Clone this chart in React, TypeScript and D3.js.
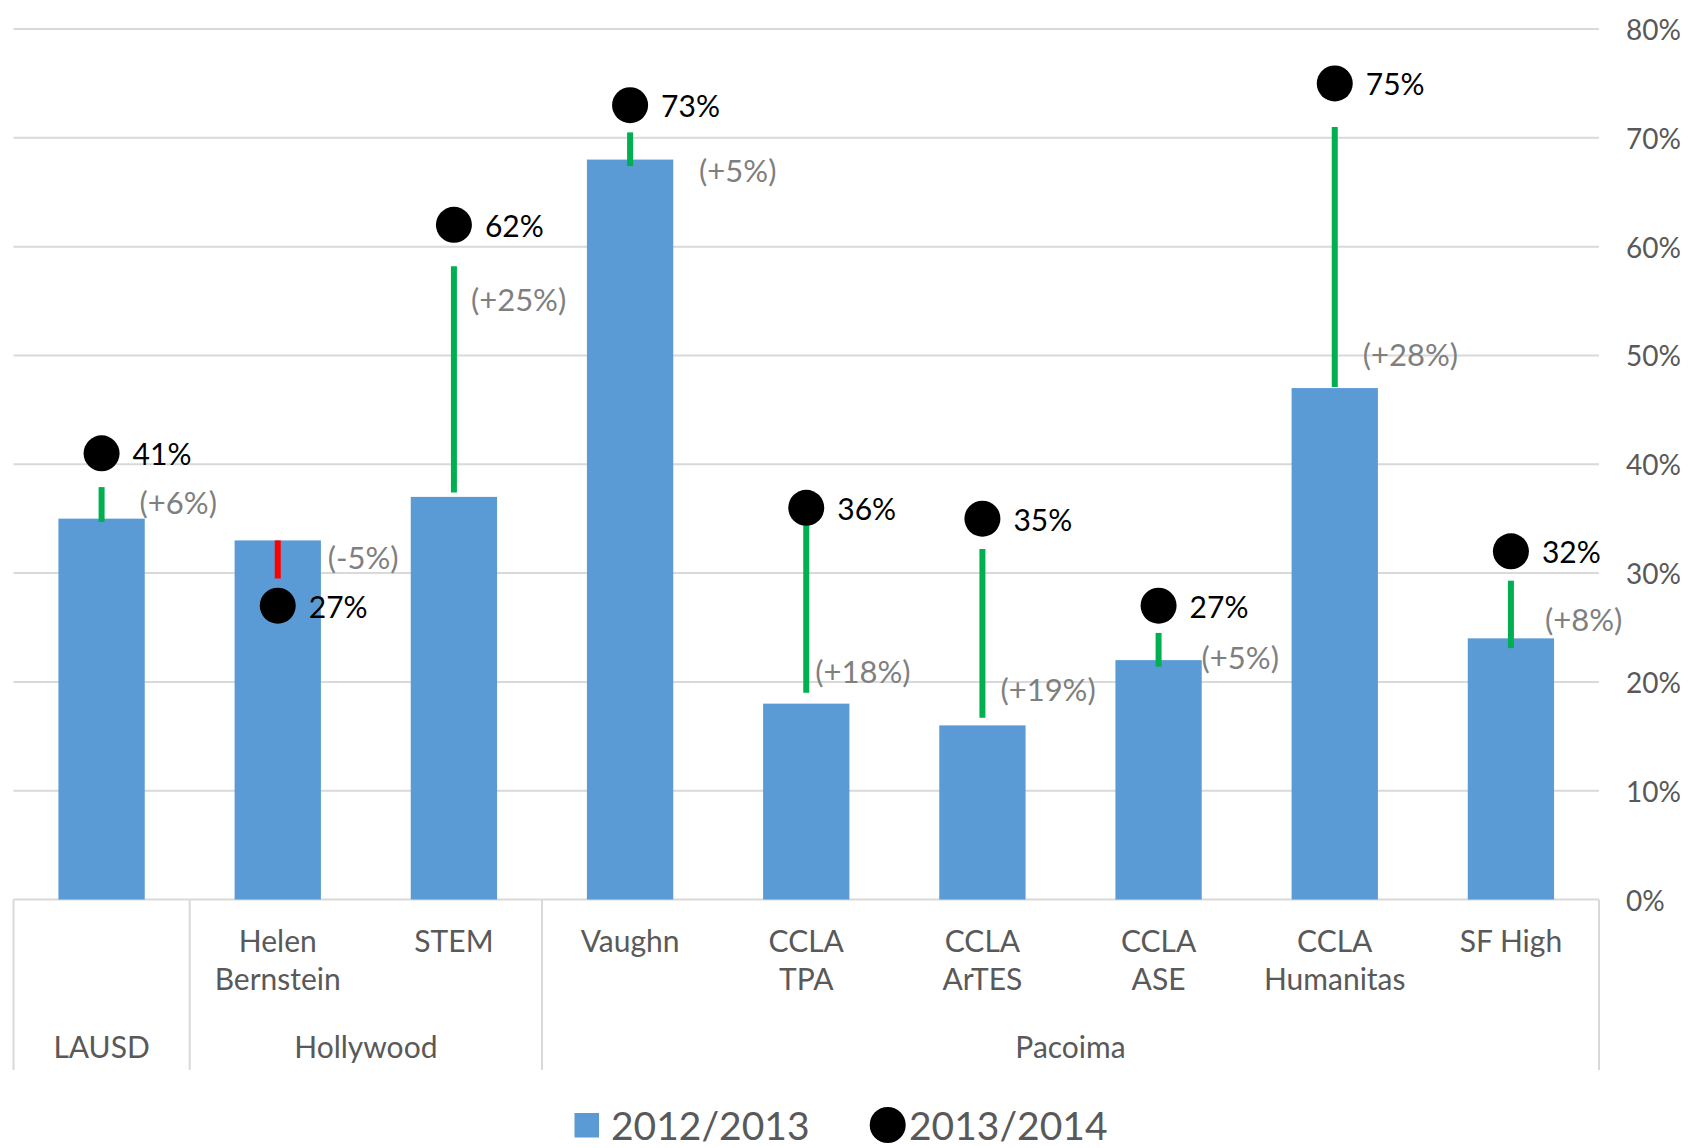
import React from 'react';
import * as d3 from 'd3';

// values
const schools = ['LAUSD', 'Helen Bernstein', 'STEM', 'Vaughn', 'CCLA TPA', 'CCLA ArTES', 'CCLA ASE', 'CCLA Humanitas', 'SF High'];
const schoolLines = [[], ['Helen', 'Bernstein'], ['STEM'], ['Vaughn'], ['CCLA', 'TPA'], ['CCLA', 'ArTES'], ['CCLA', 'ASE'], ['CCLA', 'Humanitas'], ['SF High']];
const groupNames = ['LAUSD', 'Hollywood', 'Pacoima'];
const groupSizes = [1, 2, 6];

const year1 = [35, 33, 37, 68, 18, 16, 22, 47, 24]; // 2012/2013 bars
const year2 = [41, 27, 62, 73, 36, 35, 27, 75, 32]; // 2013/2014 dots
const changeText = ['(+6%)', '(-5%)', '(+25%)', '(+5%)', '(+18%)', '(+19%)', '(+5%)', '(+28%)', '(+8%)'];
// connector line ends (percent), as drawn
const lineFrom = [34.7, 33, 37.4, 67.4, 19, 16.7, 21.4, 47.1, 23.1];
const lineTo = [37.9, 29.5, 58.2, 70.5, 34.4, 32.2, 24.5, 71, 29.3];
const yTicks = [0, 10, 20, 30, 40, 50, 60, 70, 80];

// hand-placed change label spots (percent height, px right of bar centre)
const changeLabelY = [36.5, 31.5, 55.2, 67.0, 21.0, 19.3, 22.3, 50.1, 25.8];
const changeLabelDx = [38, 50, 17, 69, 9, 18, 43, 28, 34];

const W = 1689;
const H = 1148;
const left = 13.5;
const right = 1599;
const top = 29;
const bottom = 899.5;
const font = 'Lato, "Open Sans", sans-serif';

export default function App() {
  const x = d3.scaleBand<string>().domain(schools).range([left, right]).paddingInner(0.51).paddingOuter(0.255);
  const y = d3.scaleLinear().domain([0, 80]).range([bottom, top]);
  const step = x.step();
  const cx = (i: number) => (x(schools[i]) as number) + x.bandwidth() / 2;

  // group separators at band boundaries
  let acc = 0;
  const groups = groupNames.map((name, gi) => {
    const start = acc;
    acc += groupSizes[gi];
    return { name, x0: left + start * step, x1: left + acc * step };
  });

  return (
    <svg width={W} height={H} style={{ position: 'absolute', left: 0, top: 0, background: '#fff' }} fontFamily={font}>
      {/* gridlines */}
      {yTicks.map(t => (
        <line key={t} x1={left} x2={right} y1={y(t)} y2={y(t)} stroke="#d9d9d9" strokeWidth={2} />
      ))}
      {yTicks.map(t => (
        <text key={'l' + t} x={1626} y={y(t)} dominantBaseline="central" fontSize={28} fill="#595959">
          {d3.format('.0%')(t / 100)}
        </text>
      ))}

      {/* category axis separators */}
      {groups.map(g => (
        <line key={'s' + g.name} x1={g.x0} x2={g.x0} y1={bottom} y2={1070} stroke="#d9d9d9" strokeWidth={2} />
      ))}
      <line x1={right} x2={right} y1={bottom} y2={1070} stroke="#d9d9d9" strokeWidth={2} />

      {/* bars */}
      {year1.map((v, i) => (
        <rect key={'b' + i} x={x(schools[i])} y={y(v)} width={x.bandwidth()} height={y(0) - y(v)} fill="#5b9bd5" />
      ))}

      {/* change connectors */}
      {year1.map((v, i) => (
        <line key={'c' + i} x1={cx(i)} x2={cx(i)} y1={y(lineFrom[i])} y2={y(lineTo[i])}
          stroke={year2[i] >= v ? '#00b050' : '#ff0000'} strokeWidth={6} />
      ))}

      {/* dots */}
      {year2.map((v, i) => (
        <g key={'d' + i}>
          <circle cx={cx(i)} cy={y(v)} r={18} fill="#000" />
          <text x={cx(i) + 31} y={y(v)} dominantBaseline="central" fontSize={30} fill="#000">{v}%</text>
        </g>
      ))}

      {/* change labels */}
      {changeText.map((t, i) => (
        <text key={'t' + i} x={cx(i) + changeLabelDx[i]} y={y(changeLabelY[i])} dominantBaseline="central"
          fontSize={31} fill="#7f7f7f">{t}</text>
      ))}

      {/* category labels */}
      {schoolLines.map((lines, i) => lines.map((ln, j) => (
        <text key={'n' + i + j} x={cx(i)} y={939.5 + j * 38} textAnchor="middle" dominantBaseline="central"
          fontSize={30} fill="#595959">{ln}</text>
      )))}
      {groups.map(g => (
        <text key={'g' + g.name} x={(g.x0 + g.x1) / 2} y={1045.5} textAnchor="middle" dominantBaseline="central"
          fontSize={30} fill="#595959">{g.name}</text>
      ))}

      {/* legend */}
      <rect x={574.5} y={1113} width={24.5} height={24.5} fill="#5b9bd5" />
      <text x={611} y={1125} dominantBaseline="central" fontSize={39} fill="#595959">2012/2013</text>
      <circle cx={887.7} cy={1125} r={18} fill="#000" />
      <text x={909} y={1125} dominantBaseline="central" fontSize={39} fill="#595959">2013/2014</text>
    </svg>
  );
}
